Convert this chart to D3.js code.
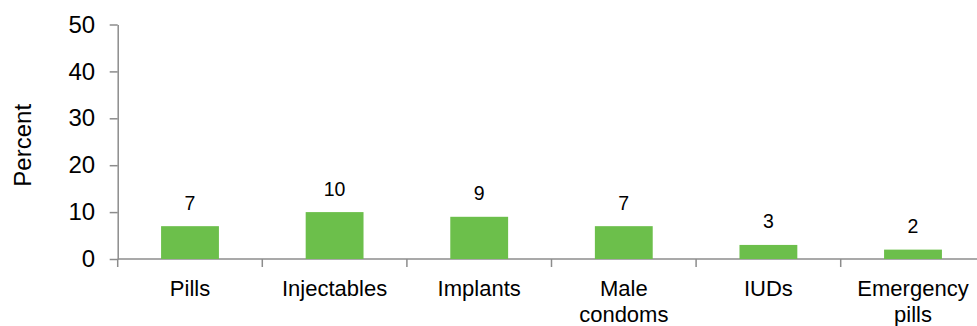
<!DOCTYPE html>
<html>
<head>
<meta charset="utf-8">
<script src="https://cdn.jsdelivr.net/npm/d3@7"></script>
<style>
  html, body { margin: 0; padding: 0; background: #fff; }
  svg { display: block; }
</style>
</head>
<body>
<svg id="chart" width="977" height="326"></svg>
<script>
const categories = ["Pills", "Injectables", "Implants", "Male condoms", "IUDs", "Emergency pills"];
const categoryLines = [["Pills"], ["Injectables"], ["Implants"], ["Male", "condoms"], ["IUDs"], ["Emergency", "pills"]];
const values = [7, 10, 9, 7, 3, 2];
const yTicks = [0, 10, 20, 30, 40, 50];
const yLabel = "Percent";

const svg = d3.select("#chart");
const x0 = 117.7, bandW = 144.6;
const x = d3.scaleBand().domain(categories).range([x0, x0 + bandW * categories.length]).paddingInner(0.6).paddingOuter(0.3);
const y = d3.scaleLinear().domain([0, 50]).range([259, 24.5]);
const axisColor = "#8c8c8c";

// y axis
const yAxis = svg.append("g").attr("transform", `translate(${x0},0)`)
  .call(d3.axisLeft(y).tickValues(yTicks).tickSize(8).tickPadding(14.5).tickSizeOuter(0));
yAxis.select(".domain").attr("stroke", axisColor).attr("stroke-width", 1.5);
yAxis.selectAll(".tick line").attr("stroke", axisColor).attr("stroke-width", 1.5);
yAxis.selectAll(".tick text").attr("font-family", "Liberation Sans, Arial, sans-serif").attr("font-size", 24).attr("fill", "#000");

// x axis (category boundary ticks)
const xg = svg.append("g");
xg.append("line").attr("x1", x0).attr("x2", 977).attr("y1", y(0)).attr("y2", y(0))
  .attr("stroke", axisColor).attr("stroke-width", 1.5);
d3.range(categories.length + 1).forEach(i => {
  const xx = x0 + i * bandW;
  xg.append("line").attr("x1", xx).attr("x2", xx).attr("y1", y(0)).attr("y2", y(0) + 8)
    .attr("stroke", axisColor).attr("stroke-width", 1.5);
});

// bars
svg.append("g").selectAll("rect").data(values).join("rect")
  .attr("x", (d, i) => x(categories[i]))
  .attr("width", x.bandwidth())
  .attr("y", d => y(d))
  .attr("height", d => y(0) - y(d))
  .attr("fill", "#6cbf4b");

// value labels
svg.append("g").selectAll("text").data(values).join("text")
  .attr("x", (d, i) => x(categories[i]) + x.bandwidth() / 2)
  .attr("y", d => y(d) - 16.5)
  .attr("text-anchor", "middle")
  .attr("font-family", "Liberation Sans, Arial, sans-serif")
  .attr("font-size", 19.5)
  .attr("fill", "#000")
  .text(d => d);

// category labels
const cl = svg.append("g").selectAll("text").data(categoryLines).join("text")
  .attr("text-anchor", "middle")
  .attr("font-family", "Liberation Sans, Arial, sans-serif")
  .attr("font-size", 22)
  .attr("fill", "#000")
  .attr("transform", (d, i) => `translate(${x(categories[i]) + x.bandwidth() / 2},296)`);
cl.selectAll("tspan").data(d => d).join("tspan")
  .attr("x", 0).attr("y", (d, j) => j * 25.5).text(d => d);

// y label
svg.append("text")
  .attr("transform", `translate(31,145.3) rotate(-90)`)
  .attr("text-anchor", "middle")
  .attr("font-family", "Liberation Sans, Arial, sans-serif")
  .attr("font-size", 24)
  .attr("fill", "#000")
  .text(yLabel);
</script>
</body>
</html>
